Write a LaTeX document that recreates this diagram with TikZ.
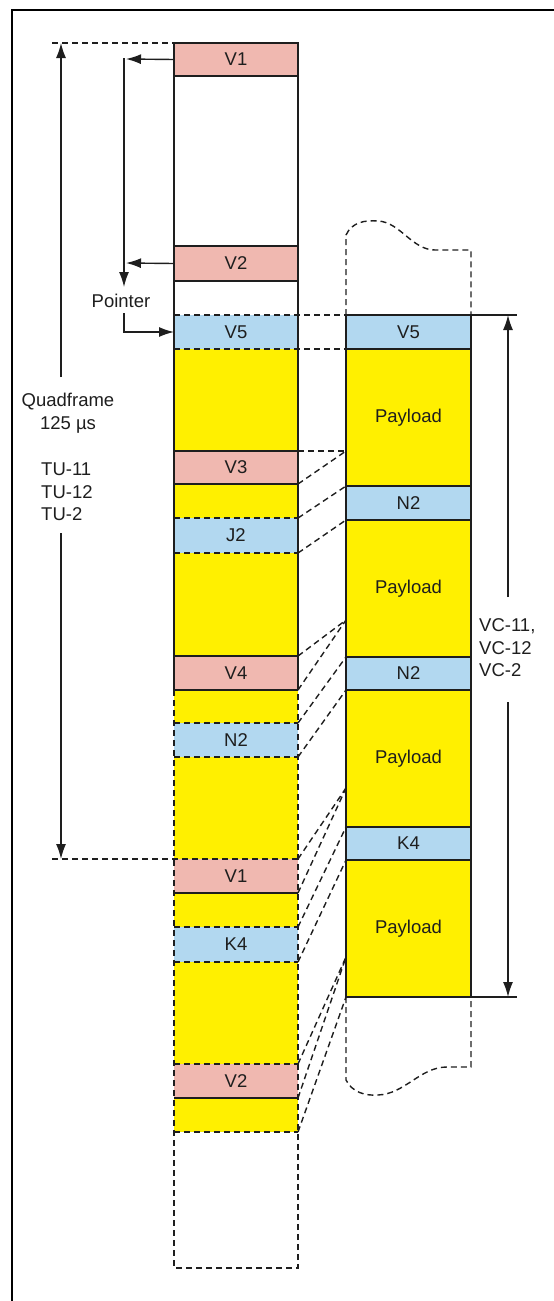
\documentclass[tikz,border=0pt]{standalone}
\usepackage{fontspec}
\setmainfont{Liberation Sans}
\usetikzlibrary{arrows.meta}
\definecolor{vpink}{RGB}{240,184,176}
\definecolor{vblue}{RGB}{178,216,240}
\definecolor{vyel}{RGB}{255,240,0}
\definecolor{ink}{RGB}{30,30,30}
\begin{document}
\begin{tikzpicture}[x=1pt,y=-1pt,
  cell/.style={anchor=north west, inner sep=0pt, outer sep=0pt, minimum width=124pt, font=\fontsize{18.5}{22}\selectfont, text=ink},
  rcell/.style={cell, minimum width=125pt},
  pk/.style={fill=vpink}, bl/.style={fill=vblue}, yl/.style={fill=vyel},
  solidln/.style={draw=ink, line width=1.4pt},
  dashln/.style={draw=ink, line width=1.4pt, dash pattern=on 6pt off 4pt},
  arr/.style={draw=ink, line width=1.4pt, -{Latex[length=15pt,width=10pt]}},
  lbl/.style={font=\fontsize{18.5}{22.5}\selectfont, text=ink, inner sep=0pt},
]
\useasboundingbox (0,0) rectangle (554,1301);
\draw[line width=2.5pt, black] (12,1301) -- (12,10) -- (554,10);

% left column cells
\node[cell,pk,minimum height=33pt] (lV1a) at (174,43) {V1};
\node[cell,pk,minimum height=35pt] (lV2a) at (174,246) {V2};
\node[cell,bl,minimum height=34pt] (lV5) at (174,315) {V5};
\node[cell,yl,minimum height=102pt] (lY1) at (174,349) {};
\node[cell,pk,minimum height=33pt] (lV3) at (174,451) {V3};
\node[cell,yl,minimum height=34pt] (lY2) at (174,484) {};
\node[cell,bl,minimum height=35pt] (lJ2) at (174,518) {J2};
\node[cell,yl,minimum height=103pt] (lY3) at (174,553) {};
\node[cell,pk,minimum height=34pt] (lV4) at (174,656) {V4};
\node[cell,yl,minimum height=33pt] (lY4) at (174,690) {};
\node[cell,bl,minimum height=34pt] (lN2) at (174,723) {N2};
\node[cell,yl,minimum height=102pt] (lY5) at (174,757) {};
\node[cell,pk,minimum height=34pt] (lV1b) at (174,859) {V1};
\node[cell,yl,minimum height=34pt] (lY6) at (174,893) {};
\node[cell,bl,minimum height=35pt] (lK4) at (174,927) {K4};
\node[cell,yl,minimum height=102pt] (lY7) at (174,962) {};
\node[cell,pk,minimum height=34pt] (lV2b) at (174,1064) {V2};
\node[cell,yl,minimum height=34pt] (lY8) at (174,1098) {};
\node[cell,minimum height=136pt] (lE) at (174,1132) {};

% right column cells
\node[rcell,bl,minimum height=34pt] (rV5) at (346,315) {V5};
\node[rcell,yl,minimum height=137pt] (rP1) at (346,349) {Payload};
\node[rcell,bl,minimum height=34pt] (rN2a) at (346,486) {N2};
\node[rcell,yl,minimum height=137pt] (rP2) at (346,520) {Payload};
\node[rcell,bl,minimum height=33pt] (rN2b) at (346,657) {N2};
\node[rcell,yl,minimum height=137pt] (rP3) at (346,690) {Payload};
\node[rcell,bl,minimum height=33pt] (rK4) at (346,827) {K4};
\node[rcell,yl,minimum height=137pt] (rP4) at (346,860) {Payload};

% left column lines
\draw[solidln] (lV4.south west) -- (lV1a.north west) -- (lV1a.north east) -- (lV4.south east);
\draw[dashln] (lV4.south west) -- (lE.south west) -- (lE.south east) -- (lV4.south east);
\draw[solidln] (lV1a.south west) -- (lV1a.south east);
\draw[solidln] (lV2a.north west) -- (lV2a.north east);
\draw[solidln] (lV2a.south west) -- (lV2a.south east);
\draw[solidln] (lV3.north west) -- (lV3.north east);
\draw[solidln] (lV3.south west) -- (lV3.south east);
\draw[solidln] (lV4.north west) -- (lV4.north east);
\draw[solidln] (lV4.south west) -- (lV4.south east);
\draw[solidln] (lV1b.south west) -- (lV1b.south east);
\draw[solidln] (lV2b.south west) -- (lV2b.south east);
\draw[dashln] (lJ2.north west) -- (lJ2.north east);
\draw[dashln] (lJ2.south west) -- (lJ2.south east);
\draw[dashln] (lN2.north west) -- (lN2.north east);
\draw[dashln] (lN2.south west) -- (lN2.south east);
\draw[dashln] (lK4.north west) -- (lK4.north east);
\draw[dashln] (lK4.south west) -- (lK4.south east);
\draw[dashln] (lV2b.north west) -- (lV2b.north east);
\draw[dashln] (lY8.south west) -- (lY8.south east);
\draw[dashln] (lV5.north west) -- (rV5.north west);
\draw[dashln] (lV5.south west) -- (rV5.south west);
\coordinate (d1) at (52,43);
\coordinate (d2) at (52,859);
\draw[dashln] (d1) -- (lV1a.north west);
\draw[dashln] (d2) -- (lV1b.north east);

% right column lines
\coordinate (e1) at (517,315);
\coordinate (e2) at (517,997);
\draw[solidln] (rV5.north west) -- (rP4.south west);
\draw[solidln] (rV5.north east) -- (rP4.south east);
\draw[solidln] (rV5.north west) -- (e1);
\draw[solidln] (rP4.south west) -- (e2);
\draw[solidln] (rV5.south west) -- (rV5.south east);
\draw[solidln] (rN2a.north west) -- (rN2a.north east);
\draw[solidln] (rN2a.south west) -- (rN2a.south east);
\draw[solidln] (rN2b.north west) -- (rN2b.north east);
\draw[solidln] (rN2b.south west) -- (rN2b.south east);
\draw[solidln] (rK4.north west) -- (rK4.north east);
\draw[solidln] (rK4.south west) -- (rK4.south east);
\draw[dashln] (rV5.north west) -- (346,235) .. controls (352,222) and (365,220) .. (378,221)
  .. controls (400,222) and (412,250) .. (435,250) -- (471,250) -- (rV5.north east);
\draw[dashln] (rP4.south west) -- (346,1080) .. controls (352,1092) and (365,1096) .. (378,1095)
  .. controls (405,1094) and (420,1067) .. (447,1067) -- (471,1067) -- (rP4.south east);

% dimension arrows
\coordinate (q1) at (61,43);
\coordinate (q2) at (61,377);
\coordinate (q3) at (61,533);
\coordinate (q4) at (61,859);
\draw[arr] (q2) -- (q1);
\draw[arr] (q3) -- (q4);
\coordinate (w1) at (508,315);
\coordinate (w2) at (508,597);
\coordinate (w3) at (508,702);
\coordinate (w4) at (508,997);
\draw[arr] (w2) -- (w1);
\draw[arr] (w3) -- (w4);

\node[lbl, align=center] (qf) at (68,413) {Quadframe\\125 µs};
\node[lbl, align=left, anchor=west] (tu) at (41,492) {TU-11\\TU-12\\TU-2};
\node[lbl, align=left, anchor=west] (vc) at (479,648) {VC-11,\\VC-12\\VC-2};
\node[lbl] (ptr) at (121,301) {Pointer};

% pointer arrows
\coordinate (p1) at (126,59);
\coordinate (p2) at (124,58.3);
\coordinate (p3) at (124,287);
\coordinate (p4) at (126,263);
\coordinate (p5) at (124,313);
\draw[arr] (lV1a.west) -- (p1);
\draw[arr] (p2) -- (p3);
\draw[arr] (lV2a.west) -- (p4);
\draw[arr] (p5) |- (lV5.west);

% mapping connectors
\coordinate (c1) at (346,451);
\coordinate (c2) at (346,620);
\coordinate (c3) at (346,788);
\coordinate (c4) at (346,957);
\draw[dashln] (lV3.north east) -- (c1);
\draw[dashln] (lV3.south east) -- (c1);
\draw[dashln] (lJ2.north east) -- (rN2a.north west);
\draw[dashln] (lJ2.south east) -- (rN2a.south west);
\draw[dashln] (lV4.north east) -- (c2);
\draw[dashln] (lV4.south east) -- (c2);
\draw[dashln] (lN2.north east) -- (rN2b.north west);
\draw[dashln] (lN2.south east) -- (rN2b.south west);
\draw[dashln] (lV1b.north east) -- (c3);
\draw[dashln] (lV1b.south east) -- (c3);
\draw[dashln] (lK4.north east) -- (rK4.north west);
\draw[dashln] (lK4.south east) -- (rK4.south west);
\draw[dashln] (lV2b.north east) -- (c4);
\draw[dashln] (lV2b.south east) -- (c4);
\draw[dashln] (lY8.south east) -- (rP4.south west);
\end{tikzpicture}
\end{document}
